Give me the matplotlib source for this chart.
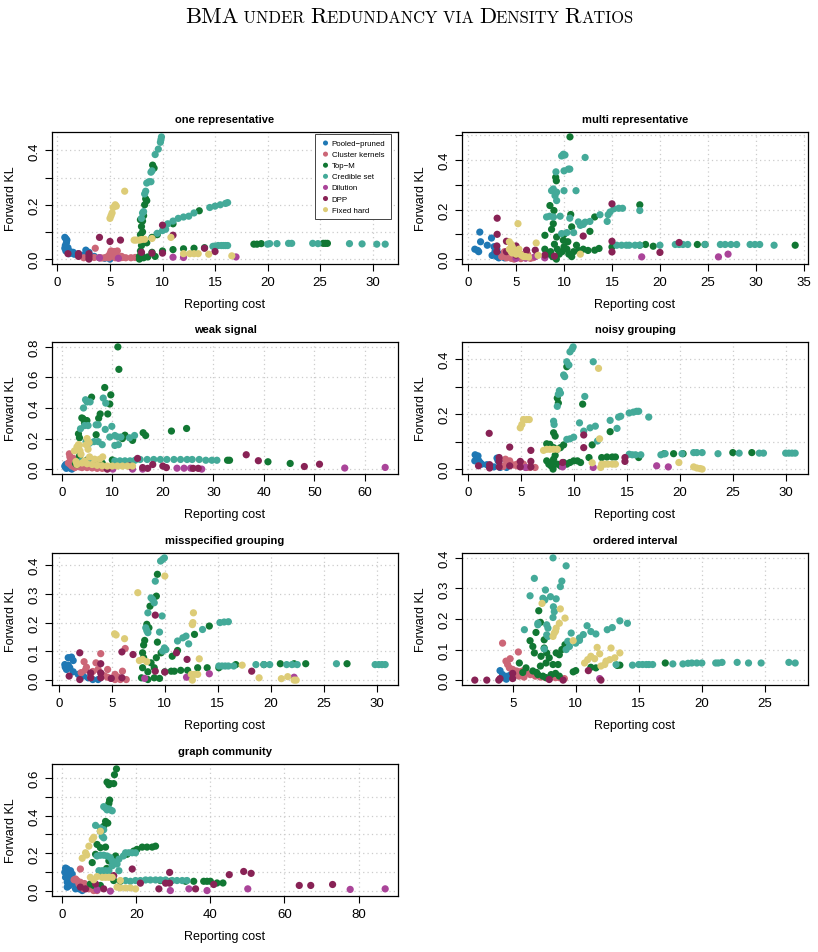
import matplotlib
matplotlib.use("Agg")
import matplotlib.pyplot as plt
from matplotlib.ticker import MultipleLocator, FuncFormatter
from matplotlib.offsetbox import TextArea, HPacker, AnchoredOffsetbox

plt.rcParams['font.family'] = ['Liberation Sans', 'DejaVu Sans']

METHODS = ["Pooled−pruned", "Cluster kernels", "Top−M", "Credible set", "Dilution", "DPP", "Fixed hard"]
COLORS = ["#1F78B4", "#CC6677", "#117733", "#44AA99", "#AA4499", "#882255", "#DDCC77"]

# ---------------- one representative ----------------
ONE_POOLED = [(0.7,0.08),(0.8,0.075),(0.9,0.07),(0.75,0.05),(0.8,0.045),(0.7,0.04),(0.9,0.035),(1.0,0.03),(1.2,0.028),(1.5,0.025),(2.0,0.02),(2.5,0.015),(2.7,0.033),(3.0,0.025),(3.5,0.01),(4.0,0.005),(4.5,0.003),(5.0,0.0),(0.8,0.03),(1.1,0.02),(1.3,0.022),(1.6,0.018),(0.85,0.06),(1.0,0.042)]
ONE_CLUSTER = [(2.5,0.005),(3.0,0.005),(3.5,0.006),(3.6,0.04),(4.0,0.005),(4.2,0.004),(4.5,0.005),(4.8,0.01),(5.0,0.02),(5.1,0.03),(5.2,0.025),(5.3,0.015),(5.4,0.028),(5.5,0.02),(5.6,0.012),(5.7,0.03),(5.8,0.008),(6.0,0.005),(6.2,0.006),(6.5,0.005),(7.0,0.005),(7.4,0.006),(7.8,0.005),(4.9,0.005),(5.5,0.005),(6.1,0.01)]
ONE_TOPM = [(7.8,0.0),(7.8,0.01),(7.9,0.03),(8.0,0.05),(8.0,0.07),(8.1,0.1),(8.0,0.12),(7.9,0.145),(8.1,0.14),(8.3,0.2),(8.4,0.222),(8.5,0.215),(9.06,0.346),(9.2,0.335),(8.5,0.06),(9.0,0.08),(9.5,0.09),(11.0,0.13),(13.5,0.178),(8.0,0.02),(9.0,0.025),(10.0,0.03),(11.0,0.035),(12.0,0.038),(13.0,0.04),(14.0,0.042),(15.0,0.045),(18.7,0.055),(19.0,0.055),(19.4,0.057),(25.3,0.058),(25.5,0.058),(25.7,0.058),(8.2,0.005),(8.6,0.008),(9.3,0.01),(7.9,0.09),(8.2,0.16)]
ONE_CREDIBLE = [(8.0,0.15),(8.1,0.17),(8.2,0.175),(8.3,0.24),(8.4,0.25),(8.5,0.28),(8.7,0.285),(8.9,0.285),(8.9,0.32),(9.0,0.325),(9.3,0.385),(9.6,0.405),(9.8,0.43),(9.85,0.44),(9.9,0.45),(10.5,0.13),(11.0,0.14),(11.5,0.15),(12.0,0.155),(12.5,0.158),(13.0,0.17),(14.5,0.19),(15.0,0.195),(15.5,0.2),(16.0,0.205),(16.2,0.208),(9.5,0.095),(10.0,0.105),(10.3,0.11),(14.8,0.047),(15.0,0.048),(15.3,0.05),(15.6,0.05),(15.8,0.05),(16.0,0.05),(16.2,0.05),(20.0,0.055),(20.2,0.057),(20.9,0.057),(22.0,0.058),(22.3,0.058),(24.3,0.058),(24.8,0.057),(27.8,0.057),(29.0,0.056),(30.4,0.055),(31.2,0.055)]
ONE_DILUTION = [(4.0,0.005),(11.0,0.007),(12.0,0.006),(17.0,0.008),(5.8,0.003)]
ONE_DPP = [(1.0,0.02),(2.0,0.02),(2.0,0.01),(3.0,0.01),(3.0,0.0),(3.0,0.02),(4.0,0.08),(5.0,0.065),(6.0,0.07),(8.0,0.025),(9.0,0.022),(10.0,0.125),(10.0,0.022),(11.0,0.088),(14.0,0.04),(15.0,0.028)]
ONE_FIXED = [(5.0,0.15),(5.1,0.16),(5.2,0.17),(5.3,0.19),(5.5,0.2),(5.6,0.195),(6.4,0.25),(7.3,0.07),(7.5,0.07),(7.8,0.07),(8.0,0.072),(8.3,0.073),(9.0,0.076),(10.8,0.08),(12.0,0.02),(12.6,0.02),(13.0,0.02),(13.4,0.02),(14.4,0.018),(16.6,0.012)]

# ---------------- multi representative ----------------
MULTI_POOLED = [(0.7,0.04),(1.0,0.035),(1.1,0.03),(1.22,0.109),(1.3,0.07),(2.0,0.056),(2.44,0.085),(2.5,0.015),(2.8,0.03),(3.0,0.01),(3.2,0.005),(3.5,0.02),(3.0,0.04),(3.8,0.005),(2.7,0.05)]
MULTI_CLUSTER = [(3.5,0.01),(4.0,0.005),(4.5,0.003),(5.0,0.005),(5.5,0.002),(6.0,0.005),(6.5,0.003),(4.2,0.02),(5.2,0.015),(5.8,0.01),(3.8,0.03),(6.2,0.02),(4.8,0.0),(5.5,0.02),(4.0,0.012),(6.8,0.006)]
MULTI_TOPM = [(10.62,0.493),(9.13,0.33),(9.2,0.316),(8.53,0.216),(8.95,0.196),(8.88,0.143),(8.01,0.096),(9.23,0.089),(9.93,0.076),(10.8,0.13),(10.7,0.18),(11.3,0.056),(13.2,0.17),(12.7,0.112),(13.2,0.036),(13.65,0.043),(15.0,0.049),(17.9,0.219),(17.9,0.056),(18.5,0.059),(19.3,0.052),(23.9,0.059),(24.7,0.059),(34.1,0.056),(8.0,0.04),(8.3,0.02),(8.6,0.03),(9.0,0.06),(9.3,0.04),(9.5,0.02),(9.8,0.03),(10.0,0.05),(10.3,0.04),(10.5,0.02),(10.8,0.01),(11.0,0.03),(11.5,0.035),(12.0,0.04),(12.5,0.035),(9.2,0.0),(8.8,0.01),(8.7,0.12),(10.0,0.1),(10.4,0.07)]
MULTI_CREDIBLE = [(9.75,0.416),(9.93,0.423),(10.1,0.42),(12.2,0.41),(9.16,0.352),(10.0,0.356),(10.45,0.363),(10.6,0.363),(11.25,0.276),(8.7,0.276),(8.88,0.283),(9.23,0.27),(10.0,0.276),(9.23,0.236),(9.06,0.256),(8.18,0.17),(8.5,0.173),(8.9,0.17),(9.6,0.173),(10.6,0.165),(11.7,0.136),(12.2,0.149),(12.7,0.152),(13.75,0.179),(14.6,0.179),(14.8,0.19),(15.2,0.203),(15.7,0.205),(16.1,0.205),(14.5,0.152),(17.9,0.196),(9.75,0.103),(10.3,0.107),(11.0,0.107),(15.5,0.056),(16.0,0.056),(16.5,0.056),(16.8,0.056),(17.4,0.056),(17.9,0.056),(20.0,0.056),(21.6,0.059),(22.0,0.059),(22.4,0.059),(22.9,0.059),(24.7,0.059),(26.3,0.059),(26.8,0.059),(27.4,0.059),(28.0,0.059),(29.4,0.059),(29.9,0.059),(30.4,0.059),(31.9,0.056),(12.0,0.14),(11.5,0.15)]
MULTI_DILUTION = [(8.0,0.005),(18.1,0.009),(26.1,0.009),(27.1,0.02),(5.0,0.003),(6.0,0.004),(7.0,0.01)]
MULTI_DPP = [(3.03,0.165),(3.03,0.1),(3.0,0.053),(4.0,0.072),(5.0,0.053),(6.1,0.036),(7.0,0.036),(8.0,0.016),(9.0,0.012),(12.0,0.093),(15.0,0.223),(15.0,0.072),(15.0,0.029),(20.0,0.027),(22.0,0.067),(4.0,0.03),(3.0,0.03),(5.0,0.016),(6.0,0.015)]
MULTI_FIXED = [(4.3,0.07),(4.5,0.06),(4.6,0.05),(4.7,0.04),(4.8,0.035),(5.0,0.03),(5.2,0.025),(5.4,0.02),(5.6,0.015),(5.8,0.01),(6.0,0.01),(6.3,0.008),(4.5,0.03),(5.0,0.02),(5.2,0.143),(7.1,0.065),(7.3,0.015),(11.7,0.02),(4.3,0.04),(4.6,0.025),(5.3,0.04)]

# ---------------- weak signal ----------------
WEAK_POOLED = [(0.6,0.02),(0.8,0.03),(1.0,0.025),(1.2,0.02),(1.5,0.01),(1.8,0.005),(2.0,0.0),(1.0,0.01),(0.7,0.015),(1.3,0.03),(0.9,0.005)]
WEAK_CLUSTER = [(1.5,0.1),(1.6,0.08),(1.8,0.06),(2.0,0.05),(2.2,0.04),(2.5,0.03),(3.0,0.02),(3.5,0.015),(4.0,0.01),(5.0,0.01),(6.0,0.008),(7.0,0.005),(8.0,0.005),(1.3,0.04),(2.0,0.02),(2.6,0.01),(1.7,0.03),(2.3,0.07),(9.0,0.003)]
WEAK_TOPM = [(11.1,0.8),(11.3,0.653),(8.5,0.534),(9.7,0.486),(5.9,0.471),(9.5,0.426),(3.97,0.335),(4.97,0.318),(7.3,0.333),(7.6,0.361),(9.1,0.361),(3.3,0.231),(3.5,0.205),(6.8,0.225),(12.5,0.222),(16.1,0.238),(16.6,0.22),(21.7,0.249),(24.7,0.266),(14.0,0.188),(2.7,0.037),(3.5,0.086),(32.8,0.058),(33.2,0.058),(40.8,0.048),(45.2,0.037),(4.2,0.33),(4.5,0.3),(10.0,0.06),(7.0,0.05),(8.0,0.04),(5.0,0.06),(6.0,0.05),(3.0,0.03),(12.0,0.2)]
WEAK_CREDIBLE = [(4.7,0.454),(5.0,0.44),(5.6,0.44),(4.3,0.4),(8.2,0.465),(8.7,0.432),(6.8,0.29),(7.2,0.29),(8.6,0.26),(9.9,0.28),(3.7,0.264),(4.5,0.285),(5.2,0.285),(4.8,0.18),(5.5,0.17),(6.4,0.18),(7.2,0.18),(8.0,0.16),(9.5,0.21),(10.5,0.22),(11.1,0.21),(11.7,0.21),(13.4,0.205),(14.4,0.22),(10.5,0.155),(11.2,0.16),(10.5,0.054),(11.5,0.054),(12.5,0.054),(13.5,0.054),(14.5,0.058),(15.5,0.063),(16.9,0.063),(18.2,0.063),(19.5,0.063),(20.8,0.063),(22.2,0.063),(23.5,0.063),(24.8,0.063),(25.8,0.063),(27.2,0.063),(28.5,0.058),(29.7,0.058),(30.7,0.058),(3.8,0.05),(5.5,0.054)]
WEAK_DILUTION = [(10.1,0.0),(22.8,0.006),(24.2,0.006),(25.5,0.006),(27.7,0.0),(56.0,0.007),(64.0,0.011),(16.0,0.0),(14.0,0.0)]
WEAK_DPP = [(36.5,0.094),(38.9,0.055),(48.0,0.017),(51.0,0.032),(15.0,0.07),(18.0,0.03),(16.0,0.01),(17.0,0.005),(20.0,0.02),(26.0,0.005),(27.0,0.005),(9.0,0.0),(13.4,0.02),(20.7,0.01)]
WEAK_FIXED = [(2.5,0.119),(3.0,0.145),(3.5,0.156),(5.0,0.2),(5.4,0.173),(5.2,0.13),(3.8,0.097),(4.5,0.054),(6.5,0.065),(7.5,0.065),(8.1,0.08),(3.3,0.16),(4.8,0.16),(2.8,0.05),(3.0,0.03),(4.0,0.04),(5.0,0.035),(6.0,0.03),(7.0,0.025),(8.0,0.022),(9.0,0.02),(10.0,0.02),(11.0,0.02),(12.0,0.02),(13.0,0.02),(14.0,0.02),(5.5,0.08),(3.6,0.12)]

# ---------------- noisy grouping ----------------
NOISY_POOLED = [(0.63,0.052),(0.8,0.042),(0.95,0.032),(0.6,0.03),(1.1,0.024),(1.26,0.018),(1.74,0.016),(2.7,0.04),(2.8,0.03),(3.0,0.006),(3.6,0.006),(2.4,0.008),(0.9,0.048)]
NOISY_CLUSTER = [(3.5,0.036),(3.6,0.028),(3.8,0.02),(4.0,0.015),(4.3,0.015),(4.6,0.012),(4.9,0.01),(5.2,0.01),(5.5,0.006),(5.8,0.006),(6.3,0.006),(3.9,0.03),(4.6,0.018),(5.2,0.018),(3.3,0.01)]
NOISY_TOPM = [(9.3,0.372),(8.4,0.258),(8.5,0.24),(10.8,0.236),(8.05,0.132),(8.2,0.12),(7.4,0.092),(7.7,0.09),(8.05,0.078),(8.4,0.072),(8.7,0.078),(9.0,0.088),(11.7,0.088),(13.4,0.136),(11.4,0.042),(12.6,0.042),(13.1,0.044),(13.6,0.044),(13.9,0.044),(16.1,0.042),(18.5,0.056),(19.4,0.056),(20.3,0.056),(25.0,0.06),(26.8,0.06),(7.4,0.03),(7.6,0.018),(7.8,0.012),(7.9,0.024),(8.05,0.036),(8.4,0.018),(8.7,0.012),(9.0,0.024),(9.3,0.018),(9.6,0.024),(9.95,0.03),(10.3,0.03),(10.6,0.024),(8.0,0.0),(8.2,0.05)]
NOISY_CREDIBLE = [(9.8,0.436),(9.9,0.444),(9.6,0.426),(9.3,0.39),(9.5,0.378),(11.8,0.39),(9.0,0.342),(9.1,0.336),(8.6,0.285),(8.7,0.276),(8.5,0.272),(8.4,0.228),(8.05,0.174),(8.1,0.162),(11.0,0.264),(10.5,0.168),(9.3,0.108),(9.6,0.11),(9.95,0.116),(10.9,0.138),(11.5,0.15),(12.0,0.156),(12.2,0.102),(13.4,0.177),(14.05,0.148),(14.2,0.189),(14.4,0.192),(15.2,0.204),(15.6,0.207),(15.9,0.21),(16.1,0.21),(17.05,0.189),(15.2,0.054),(15.5,0.052),(15.8,0.052),(16.3,0.052),(18.2,0.052),(18.6,0.056),(20.2,0.056),(21.3,0.06),(21.6,0.06),(22.1,0.06),(23.6,0.056),(25.6,0.058),(27.5,0.058),(27.9,0.058),(30.0,0.058),(30.3,0.058),(30.6,0.058),(30.9,0.058)]
NOISY_DILUTION = [(8.9,0.008),(11.8,0.006),(17.8,0.012),(18.9,0.008),(5.4,0.006)]
NOISY_DPP = [(1.96,0.13),(0.95,0.012),(2.0,0.016),(2.0,0.004),(2.9,0.042),(2.9,0.028),(2.9,0.008),(3.9,0.08),(3.9,0.012),(4.9,0.028),(4.9,0.008),(5.9,0.068),(5.9,0.028),(5.9,0.008),(8.9,0.024),(10.9,0.124),(10.9,0.078),(14.8,0.042),(14.8,0.028)]
NOISY_FIXED = [(4.9,0.15),(5.05,0.162),(5.2,0.18),(5.5,0.18),(5.75,0.18),(7.1,0.068),(7.4,0.072),(7.7,0.072),(8.05,0.072),(8.4,0.072),(12.3,0.366),(12.4,0.11),(11.7,0.023),(12.5,0.006),(12.6,0.018),(12.9,0.018),(13.2,0.018),(13.6,0.018),(13.9,0.018),(19.9,0.024),(21.3,0.008),(21.6,0.004),(21.9,0.002),(22.1,0.0)]

# ---------------- misspecified grouping ----------------
MISS_POOLED = [(0.88,0.078),(1.19,0.08),(1.35,0.068),(0.56,0.054),(0.72,0.037),(1.03,0.043),(1.35,0.029),(1.82,0.02),(2.29,0.014),(2.76,0.008),(3.2,0.002),(3.7,0.002),(0.88,0.052),(0.6,0.045)]
MISS_CLUSTER = [(2.38,0.064),(2.6,0.045),(2.1,0.026),(3.5,0.06),(3.95,0.092),(3.7,0.037),(4.0,0.02),(4.3,0.015),(4.6,0.01),(4.9,0.006),(5.3,0.002),(5.8,0.002),(6.36,0.002),(6.26,0.11),(6.0,0.031),(4.6,0.037),(5.3,0.02),(5.6,0.01),(3.0,0.01),(3.2,0.03),(2.5,0.035)]
MISS_TOPM = [(9.3,0.368),(9.2,0.292),(8.6,0.257),(8.3,0.194),(8.5,0.182),(8.1,0.138),(8.0,0.122),(9.3,0.132),(7.9,0.095),(8.0,0.078),(9.2,0.078),(9.65,0.095),(10.7,0.083),(11.2,0.103),(12.8,0.159),(14.2,0.188),(7.9,0.043),(8.4,0.029),(9.0,0.043),(10.0,0.029),(10.6,0.031),(10.9,0.031),(11.5,0.034),(12.15,0.034),(13.1,0.043),(14.0,0.043),(15.1,0.043),(16.7,0.054),(19.35,0.054),(20.9,0.057),(22.2,0.057),(23.3,0.057),(27.2,0.057),(7.8,0.008),(8.4,0.002),(9.0,0.008),(9.5,0.006),(8.7,0.06)]
MISS_CREDIBLE = [(9.8,0.42),(9.96,0.425),(9.6,0.414),(9.1,0.344),(8.7,0.286),(8.85,0.28),(9.0,0.269),(8.4,0.234),(9.74,0.223),(9.5,0.167),(8.2,0.182),(8.3,0.172),(8.4,0.165),(9.96,0.112),(10.1,0.106),(9.8,0.101),(11.2,0.136),(11.7,0.147),(12.0,0.153),(12.25,0.126),(13.56,0.176),(15.2,0.2),(15.6,0.202),(16.0,0.203),(15.1,0.049),(15.4,0.049),(15.7,0.049),(16.0,0.049),(16.5,0.049),(18.6,0.054),(19.35,0.054),(19.9,0.054),(21.5,0.054),(22.0,0.054),(22.5,0.054),(26.2,0.057),(29.85,0.054),(30.2,0.054),(30.5,0.054),(30.8,0.054)]
MISS_DILUTION = [(8.1,0.006),(12.05,0.01),(14.2,0.022),(22.2,0.01)]
MISS_DPP = [(0.97,0.014),(1.97,0.095),(1.97,0.002),(3.0,0.025),(3.0,0.008),(3.95,0.057),(3.95,0.025),(3.95,0.008),(4.95,0.006),(5.95,0.098),(5.95,0.008),(7.0,0.089),(9.1,0.226),(9.1,0.031),(10.0,0.028),(11.1,0.095),(12.1,0.072),(18.2,0.031)]
MISS_FIXED = [(7.45,0.304),(10.0,0.362),(5.26,0.161),(5.4,0.157),(6.2,0.144),(7.6,0.068),(7.9,0.072),(8.3,0.064),(12.7,0.234),(12.65,0.2),(12.6,0.193),(13.25,0.074),(12.5,0.02),(12.8,0.02),(13.1,0.02),(12.6,0.0),(17.3,0.052),(18.9,0.008),(21.0,0.005),(21.6,0.012),(22.2,0.0),(22.4,0.0)]

# ---------------- ordered interval ----------------
ORD_POOLED = [(4.0,0.031),(4.2,0.018),(4.3,0.008),(4.6,0.013),(4.87,0.018),(5.0,0.008),(4.5,0.003)]
ORD_CLUSTER = [(4.2,0.121),(4.47,0.062),(4.6,0.051),(4.8,0.07),(5.45,0.092),(4.74,0.04),(5.0,0.035),(5.3,0.03),(5.55,0.027),(5.8,0.03),(6.1,0.024),(6.4,0.018),(6.8,0.013),(7.2,0.01),(7.6,0.008),(8.0,0.008),(8.4,0.008),(8.7,0.008),(9.1,0.005),(5.9,0.01),(5.5,0.013),(5.1,0.018)]
ORD_TOPM = [(7.07,0.227),(7.2,0.189),(6.85,0.156),(6.6,0.11),(7.5,0.132),(6.38,0.129),(5.53,0.056),(6.72,0.089),(7.25,0.078),(7.5,0.105),(7.7,0.089),(7.9,0.073),(8.45,0.089),(8.7,0.083),(8.9,0.1),(9.15,0.116),(7.2,0.046),(7.65,0.056),(8.2,0.051),(8.6,0.051),(6.06,0.04),(6.6,0.03),(7.0,0.018),(7.4,0.013),(7.65,0.008),(8.05,0.018),(8.4,0.022),(8.7,0.013),(9.8,0.027),(10.0,0.031),(11.2,0.042),(11.6,0.04),(13.3,0.048),(13.5,0.049),(17.1,0.056),(5.8,0.025),(6.9,0.025)]
ORD_CREDIBLE = [(8.2,0.4),(9.24,0.374),(8.9,0.324),(8.78,0.306),(6.72,0.333),(7.6,0.295),(6.38,0.276),(7.4,0.268),(7.55,0.262),(8.0,0.273),(8.45,0.266),(8.23,0.24),(8.3,0.224),(8.2,0.205),(7.0,0.186),(7.7,0.181),(7.8,0.17),(5.93,0.165),(7.0,0.181),(7.7,0.148),(7.8,0.143),(7.5,0.102),(9.64,0.154),(9.37,0.127),(9.5,0.11),(9.24,0.1),(10.0,0.121),(10.3,0.138),(10.6,0.149),(10.9,0.178),(11.2,0.159),(11.6,0.151),(12.5,0.165),(12.9,0.172),(13.5,0.194),(14.1,0.186),(13.2,0.051),(14.5,0.049),(15.0,0.051),(15.3,0.051),(15.6,0.051),(15.8,0.051),(16.1,0.051),(17.7,0.053),(18.5,0.053),(18.9,0.055),(19.2,0.056),(19.6,0.056),(20.0,0.056),(21.1,0.056),(21.3,0.056),(21.6,0.058),(22.8,0.058),(23.7,0.056),(24.7,0.056),(26.9,0.058),(27.4,0.056),(10.3,0.13)]
ORD_DILUTION = [(11.9,0.005)]
ORD_DPP = [(2.0,0.0),(2.95,0.0),(3.9,0.0),(4.0,0.005),(5.0,0.022),(5.0,0.005),(7.9,0.002),(9.0,0.0),(11.0,0.031),(12.0,0.0)]
ORD_FIXED = [(7.33,0.251),(8.78,0.233),(9.15,0.203),(8.7,0.186),(8.45,0.17),(8.3,0.154),(8.2,0.143),(8.4,0.16),(9.8,0.129),(10.7,0.056),(10.95,0.067),(11.2,0.078),(11.7,0.107),(11.9,0.086),(12.0,0.046),(12.4,0.062),(12.7,0.067),(13.1,0.073),(12.8,0.105),(13.5,0.089),(12.3,0.051),(11.5,0.07)]

# ---------------- graph community ----------------
GRAPH_POOLED = [(0.9,0.122),(1.35,0.117),(2.25,0.108),(1.35,0.094),(0.9,0.073),(1.8,0.056),(2.25,0.073),(1.35,0.047),(3.1,0.038),(1.35,0.021),(3.6,0.012),(4.5,0.012),(5.4,0.003),(2.7,0.09),(0.7,0.1),(2.0,0.03)]
GRAPH_CLUSTER = [(4.9,0.117),(3.6,0.064),(4.0,0.056),(4.9,0.047),(5.4,0.03),(6.3,0.021),(7.2,0.012),(8.5,0.003),(9.4,0.003),(4.5,0.038),(5.8,0.012),(3.2,0.06),(6.0,0.04)]
GRAPH_TOPM = [(14.65,0.647),(14.1,0.616),(12.1,0.577),(13.0,0.569),(13.9,0.569),(12.6,0.563),(12.8,0.482),(12.6,0.464),(11.7,0.369),(12.3,0.36),(11.2,0.343),(10.3,0.317),(9.4,0.247),(10.3,0.23),(11.7,0.233),(8.1,0.151),(9.0,0.195),(12.6,0.16),(14.4,0.186),(17.5,0.195),(19.3,0.212),(20.2,0.221),(21.6,0.233),(22.9,0.233),(24.3,0.233),(25.2,0.238),(7.6,0.038),(8.5,0.03),(10.3,0.03),(13.9,0.056),(15.7,0.052),(26.5,0.056),(29.2,0.052),(33.3,0.052),(35.5,0.052),(38.2,0.052),(39.1,0.052),(40.0,0.052),(41.8,0.043),(43.4,0.043),(12.0,0.12),(11.0,0.08)]
GRAPH_CREDIBLE = [(11.2,0.447),(11.7,0.44),(12.1,0.43),(12.6,0.435),(13.0,0.43),(13.5,0.425),(9.0,0.348),(10.3,0.334),(11.2,0.325),(10.8,0.29),(11.2,0.282),(9.4,0.186),(10.3,0.19),(11.2,0.19),(12.1,0.186),(13.0,0.177),(13.5,0.16),(14.4,0.151),(15.3,0.169),(16.5,0.186),(17.1,0.203),(18.0,0.203),(18.9,0.203),(19.8,0.203),(9.9,0.108),(10.8,0.108),(11.7,0.108),(12.6,0.108),(13.5,0.134),(14.8,0.143),(15.3,0.108),(17.1,0.056),(18.4,0.052),(19.8,0.056),(21.1,0.056),(22.5,0.059),(23.8,0.059),(25.2,0.059),(26.5,0.059),(27.9,0.059),(29.7,0.056),(31.0,0.056),(32.4,0.056),(33.7,0.056)]
GRAPH_DILUTION = [(9.4,0.007),(13.0,0.0),(29.2,0.003),(34.2,0.012),(39.1,0.003),(50.1,0.012),(77.75,0.009),(87.2,0.012)]
GRAPH_DPP = [(4.9,0.021),(6.3,0.012),(9.0,0.038),(11.2,0.012),(13.9,0.082),(18.9,0.117),(21.1,0.042),(26.1,0.012),(27.9,0.042),(29.0,0.099),(29.0,0.042),(36.0,0.012),(40.9,0.035),(45.1,0.087),(49.0,0.104),(51.0,0.094),(64.0,0.03),(67.1,0.03),(73.0,0.035)]
GRAPH_FIXED = [(10.3,0.317),(8.1,0.273),(8.5,0.285),(7.2,0.238),(6.3,0.203),(6.6,0.191),(5.4,0.174),(7.6,0.073),(9.4,0.077),(10.8,0.073),(11.7,0.073),(12.6,0.073),(13.5,0.073),(15.7,0.056),(14.8,0.021),(15.7,0.017),(17.1,0.017),(18.4,0.017),(19.8,0.012),(8.5,0.06)]

PANEL_TITLES = ["one representative", "multi representative", "weak signal", "noisy grouping",
                "misspecified grouping", "ordered interval", "graph community"]
PANEL_DATA = [
    [ONE_POOLED, ONE_CLUSTER, ONE_TOPM, ONE_CREDIBLE, ONE_DILUTION, ONE_DPP, ONE_FIXED],
    [MULTI_POOLED, MULTI_CLUSTER, MULTI_TOPM, MULTI_CREDIBLE, MULTI_DILUTION, MULTI_DPP, MULTI_FIXED],
    [WEAK_POOLED, WEAK_CLUSTER, WEAK_TOPM, WEAK_CREDIBLE, WEAK_DILUTION, WEAK_DPP, WEAK_FIXED],
    [NOISY_POOLED, NOISY_CLUSTER, NOISY_TOPM, NOISY_CREDIBLE, NOISY_DILUTION, NOISY_DPP, NOISY_FIXED],
    [MISS_POOLED, MISS_CLUSTER, MISS_TOPM, MISS_CREDIBLE, MISS_DILUTION, MISS_DPP, MISS_FIXED],
    [ORD_POOLED, ORD_CLUSTER, ORD_TOPM, ORD_CREDIBLE, ORD_DILUTION, ORD_DPP, ORD_FIXED],
    [GRAPH_POOLED, GRAPH_CLUSTER, GRAPH_TOPM, GRAPH_CREDIBLE, GRAPH_DILUTION, GRAPH_DPP, GRAPH_FIXED],
]
# axis tick steps: (x step, y tick step, label every n-th y tick)
TICK_STEPS = [(5, 0.1, 2), (5, 0.1, 2), (10, 0.2, 1), (5, 0.1, 2), (5, 0.1, 1), (5, 0.1, 1), (20, 0.1, 2)]

W, H = 818, 953
fig = plt.figure(figsize=(W / 100, H / 100), dpi=100)

col_left = [52, 462]
row_top = [133, 343, 554, 765]
box_w, box_h = 346, 132

def make_yfmt(step, every):
    def f(v, pos):
        k = int(round(v / step))
        if abs(k * step - v) > 1e-6 or k % every != 0:
            return ""
        return f"{v:.1f}"
    return f

for i, (title, data) in enumerate(zip(PANEL_TITLES, PANEL_DATA)):
    r, c = divmod(i, 2)
    left = col_left[c] / W
    bottom = 1 - (row_top[r] + box_h) / H
    ax = fig.add_axes([left, bottom, box_w / W, box_h / H])
    for pts, color, label in zip(data, COLORS, METHODS):
        xs = [p[0] for p in pts]
        ys = [p[1] for p in pts]
        ax.scatter(xs, ys, s=27, color=color, edgecolors='none', label=label, zorder=3)
    ax.margins(0.04)
    xs_step, ys_step, every = TICK_STEPS[i]
    ax.xaxis.set_major_locator(MultipleLocator(xs_step))
    ax.yaxis.set_major_locator(MultipleLocator(ys_step))
    ax.xaxis.set_major_formatter(FuncFormatter(lambda v, p: f"{v:.0f}"))
    ax.yaxis.set_major_formatter(FuncFormatter(make_yfmt(ys_step, every)))
    ax.grid(True, color='#cccccc', linestyle=(0, (1, 2.5)), linewidth=0.9, zorder=0)
    ax.set_axisbelow(True)
    for sp in ax.spines.values():
        sp.set_linewidth(0.9)
        sp.set_color('black')
    ax.tick_params(axis='both', direction='out', length=5, width=0.8, labelsize=9.5, colors='black')
    ax.tick_params(axis='x', pad=3.5)
    ax.tick_params(axis='y', pad=3)
    for lab in ax.get_yticklabels():
        lab.set_rotation(90)
        lab.set_va('center')
    ax.set_title(title, fontsize=8, fontweight='bold', pad=7)
    ax.set_xlabel("Reporting cost", fontsize=9)
    ax.set_ylabel("Forward KL", fontsize=9)
    ax.xaxis.set_label_coords(0.5, -40 / box_h)
    ax.yaxis.set_label_coords(-41 / box_w, 0.5)
    ax.xaxis.label.set_va('center')
    ax.yaxis.label.set_va('center')
    if i == 0:
        leg = ax.legend(loc='upper right', bbox_to_anchor=(1 - 7 / box_w, 1 - 2 / box_h),
                        borderaxespad=0, fontsize=5.7, markerscale=0.7, handletextpad=0.2,
                        labelspacing=0.45, borderpad=0.7, handlelength=1.2, fancybox=False,
                        framealpha=1, edgecolor='#444444')
        leg.get_frame().set_linewidth(0.7)

# title with small caps imitation
big, small = 16.2, 11.9
pieces = [("BMA", big), (" UNDER ", small), ("R", big), ("EDUNDANCY ", small), ("VIA ", small),
          ("D", big), ("ENSITY ", small), ("R", big), ("ATIOS", small)]
children = [TextArea(t, textprops=dict(fontsize=s, family='cmr10')) for t, s in pieces]
pack = HPacker(children=children, align='baseline', pad=0, sep=0)
anch = AnchoredOffsetbox(loc='center', child=pack, bbox_to_anchor=(0.5, 1 - 17 / H),
                         bbox_transform=fig.transFigure, frameon=False, pad=0, borderpad=0)
fig.add_artist(anch)

fig.savefig("out.png", dpi=100)
